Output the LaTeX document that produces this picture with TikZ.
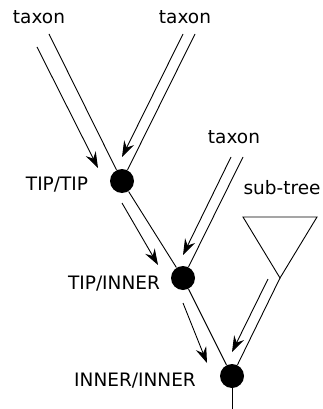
\documentclass[tikz,border=0pt]{standalone}
\usepackage{fontspec}
\setmainfont{DejaVu Sans}
\usetikzlibrary{arrows.meta}

\tikzset{
  junction/.style={circle, fill=black, inner sep=0pt, minimum size=24pt},
  pass/.style={-{Stealth[length=16pt,width=11pt,inset=5.5pt]}},
}

\begin{document}
\begin{tikzpicture}[x=1pt,y=-1pt,line width=0.9pt,font=\fontsize{18.5}{22}\selectfont]
\useasboundingbox (0,0) rectangle (323,409);

% junctions of the tree
\node[junction] (tt) at (122,181) {};
\node[junction] (ti) at (183,278) {};
\node[junction] (ii) at (232,376) {};

% labels
\node (taxA) at (39,17) {taxon};
\node (taxB) at (185,17) {taxon};
\node (taxC) at (234,137) {taxon};
\node (subtree) at (282,188) {sub-tree};
\node (lbltt) at (57,185) {TIP/TIP};
\node (lblti) at (114,284) {TIP/INNER};
\node (lblii) at (135,381) {INNER/INNER};

% branch ends
\coordinate (endA) at (49,34);
\coordinate (endB) at (195,34);
\coordinate (endC) at (243,157);
\coordinate (subL) at (243,217);
\coordinate (subR) at (317,217);
\coordinate (sub) at (280,278);
\coordinate (root) at (232,409);

% branches
\draw (endA) -- (tt);
\draw (endB) -- (tt);
\draw (tt) -- (ti);
\draw (endC) -- (ti);
\draw (ti) -- (ii);
\draw (sub) -- (ii);
\draw (ii) -- (root);
\draw (subL) -- (subR) -- (sub) -- cycle;

% arrows along the branches
\coordinate (a1s) at (37,47);   \coordinate (a1e) at (98,168);
\coordinate (a2s) at (183,34);  \coordinate (a2e) at (122,157);
\coordinate (a3s) at (122,203); \coordinate (a3e) at (158,265);
\coordinate (a4s) at (231,157); \coordinate (a4e) at (183,255);
\coordinate (a5s) at (183,303); \coordinate (a5e) at (207,363);
\coordinate (a6s) at (268,279); \coordinate (a6e) at (232,352);
\draw[pass] (a1s) -- (a1e);
\draw[pass] (a2s) -- (a2e);
\draw[pass] (a3s) -- (a3e);
\draw[pass] (a4s) -- (a4e);
\draw[pass] (a5s) -- (a5e);
\draw[pass] (a6s) -- (a6e);
\end{tikzpicture}
\end{document}
